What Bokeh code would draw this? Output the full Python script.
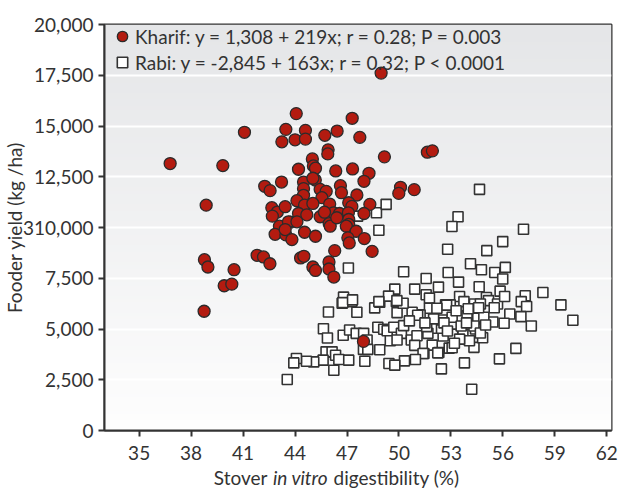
import numpy as np
from bokeh.plotting import figure
from bokeh.layouts import column
from bokeh.models import (ColumnDataSource, Range1d, FixedTicker, Legend, LegendItem, Label)
from bokeh.embed import file_html
from bokeh.resources import INLINE

# ---------------- data ----------------
kharif_x = [41.08, 43.47, 43.24, 36.79, 39.83, 43.22, 42.25, 42.56, 38.87, 42.66,
            42.98, 43.43, 42.69, 38.77, 38.97, 40.48, 39.91, 40.35, 38.75, 41.81,
            42.18, 42.55, 43.10, 42.85, 43.47, 43.72, 48.97, 44.07, 47.30, 44.60,
            44.00, 44.60, 45.72, 46.43, 47.74, 45.91, 45.89, 49.16, 51.64, 51.93,
            45.00, 45.06, 45.18, 44.20, 46.35, 47.32, 48.27, 47.98, 44.49, 45.17,
            45.03, 44.49, 44.49, 50.09, 49.99, 50.88, 46.62, 46.68, 45.45, 45.80,
            47.57, 45.55, 44.11, 44.55, 45.03, 46.00, 47.10, 47.28, 48.32, 44.20,
            44.68, 45.45, 46.22, 46.57, 45.70, 47.08, 47.98, 43.62, 44.11, 47.10,
            47.10, 46.96, 45.97, 46.03, 46.41, 47.53, 43.43, 43.82, 44.55, 45.18,
            47.05, 47.13, 48.00, 48.45, 46.29, 44.32, 44.51, 45.96, 45.96, 46.24,
            45.03, 45.18, 47.95]
kharif_y = [14690, 14835, 14220, 13150, 13050, 12240, 12030, 11815, 11100, 10975,
            10760, 11025, 10560, 8415, 8055, 7920, 7130, 7210, 5875, 8630,
            8550, 8215, 10065, 9665, 9635, 10260, 17605, 15610, 15380, 14785,
            14320, 14355, 14540, 14750, 14440, 13825, 13625, 13480, 13710, 13775,
            13380, 13035, 12920, 12870, 12785, 12885, 12670, 12275, 12240, 12340,
            12425, 11915, 11585, 11980, 11680, 11865, 12060, 11715, 11880, 11780,
            11600, 11470, 11320, 11105, 11185, 11155, 11220, 11040, 11140, 10690,
            10625, 10530, 10725, 10690, 10755, 10725, 10690, 10280, 10280, 10395,
            10150, 10065, 10195, 10065, 10480, 9815, 9900, 9405, 9765, 9570,
            9490, 9240, 9455, 8825, 8860, 8500, 8580, 8300, 7955, 7560,
            8055, 7885, 4390]

rabi_x = [54.65, 53.41, 53.06, 57.19, 55.99, 52.81, 55.07, 54.13, 52.84, 54.76,
          55.53, 56.14, 55.99, 51.57, 52.28, 53.44, 54.63, 55.84, 58.31, 57.29,
          57.06, 59.35, 51.57, 51.76, 53.50, 53.75, 55.05, 55.17, 55.69, 57.37,
          52.69, 52.96, 54.36, 54.70, 60.04, 57.64, 57.04, 56.40, 56.07, 55.42,
          56.75, 55.80, 53.78, 52.45, 54.20, 54.33, 54.83, 54.42, 53.69, 54.07,
          53.10, 52.55, 52.44, 52.90, 53.07, 51.92, 52.30, 51.44, 51.88, 51.67,
          52.50, 53.07, 53.93, 54.55, 54.90, 53.59, 54.33, 52.75, 51.76, 52.19,
          51.22, 45.93, 47.57, 46.72, 47.27, 48.60, 48.89, 49.89, 50.76, 51.08,
          49.85, 50.24, 45.64, 45.87, 46.78, 47.15, 47.53, 47.96, 48.16, 47.95,
          48.20, 48.89, 48.78, 49.12, 49.32, 49.70, 50.14, 50.27, 49.50, 49.89,
          50.71, 51.04, 50.91, 51.39, 50.95, 52.24, 50.32, 49.42, 49.76, 45.79,
          46.14, 46.34, 46.53, 47.10, 48.03, 46.24, 45.62, 45.08, 44.66, 44.08,
          43.93, 43.55, 48.84, 47.08, 50.27, 50.91, 49.76, 49.40, 49.88, 48.84,
          46.80, 46.76, 47.32, 48.70, 49.26, 47.61, 51.60, 52.00, 53.30, 54.00,
          52.60, 53.50, 52.80, 54.70, 55.00, 53.90, 51.50, 53.20, 50.60, 54.60,
          56.10, 55.50]
rabi_y = [11880, 10530, 10050, 9915, 9305, 8925, 8860, 8215, 7785, 7920,
          7785, 8035, 7460, 7490, 7065, 7310, 7080, 6865, 6795, 6635,
          6350, 6190, 6685, 6520, 6600, 6350, 6550, 6400, 6235, 6105,
          6190, 6190, 6235, 6235, 5430, 5150, 5610, 5740, 5280, 5345,
          4045, 3530, 3330, 3035, 2030, 4095, 4570, 5000, 4750, 4420,
          4750, 4655, 5035, 4060, 4075, 4205, 3845, 3795, 5035, 4785,
          5445, 5580, 5645, 5530, 5580, 5150, 5150, 6175, 6025, 6025,
          5695, 5840, 5825, 6270, 6350, 6040, 6320, 5805, 5825, 5680,
          6350, 6270, 5015, 4555, 4690, 4950, 4785, 4785, 4455, 3995,
          3995, 3975, 5085, 4985, 4915, 5085, 4785, 5165, 4420, 4455,
          4455, 4670, 4195, 3795, 3500, 3825, 3430, 3300, 3220, 3875,
          3875, 3710, 3500, 3465, 3415, 2970, 3465, 3380, 3415, 3550,
          3330, 2510, 9865, 8005, 7820, 6965, 6965, 6620, 6400, 6350,
          6570, 6300, 6435, 10725, 11140, 10560, 5115, 5500, 5900, 6000,
          5300, 4500, 4900, 4800, 5200, 5300, 5300, 4300, 5400, 6050,
          6600, 6050]

x_ticks = [35, 38, 41, 44, 47, 50, 53, 56, 59, 62]
y_ticks = [0, 2500, 5000, 7500, 10000, 12500, 15000, 17500, 20000]
y_tick_labels = ["0", "2,500", "5,000", "7,500", "310,000", "12,500", "15,000", "17,500", "20,000"]

legend_kharif = "Kharif: y = 1,308 + 219x; r = 0.28; P = 0.003"
legend_rabi = "Rabi: y = -2,845 + 163x; r = 0.32; P < 0.0001"
x_label_parts = ["Stover", "in vitro", "digestibility (%)"]
y_label = "Fooder yield (kg /ha)"

FONT = "Lato"
DARK = "#333333"

X0, X1 = 33.0, 62.27
Y0, Y1 = 0.0, 20000.0

FL, FT, FW, FH = 104, 24, 507, 406   # frame left/top/width/height in px
W, H = 619, 489
LABEL_H = 24                          # strip for the x-axis title
MAIN_H = H - LABEL_H

p = figure(width=W, height=MAIN_H, output_backend="svg", toolbar_location=None,
           x_range=Range1d(X0, X1), y_range=Range1d(Y0, Y1),
           min_border_left=FL, min_border_right=W - FL - FW,
           min_border_top=FT, min_border_bottom=MAIN_H - FT - FH)
p.background_fill_color = "#f3f4f4"
p.border_fill_color = "white"
p.outline_line_color = DARK
p.outline_line_width = 2

# gradient background (styling)
n = 120
img = np.empty((n, 1), dtype=np.uint32)
view = img.view(dtype=np.uint8).reshape((n, 1, 4))
top = np.array([229, 230, 232])
bot = np.array([254, 254, 254])
for i in range(n):
    t = i / (n - 1)
    c = bot * (1 - t) + top * t
    view[i, 0, 0:3] = c.astype(np.uint8)
    view[i, 0, 3] = 255
bg = p.image_rgba(image=[img], x=X0, y=Y0, dw=X1 - X0, dh=Y1 - Y0)
bg.level = "image"

# grid
p.xgrid.visible = False
p.ygrid.grid_line_color = "white"
p.ygrid.grid_line_width = 2
p.ygrid.ticker = FixedTicker(ticks=y_ticks)

# axes
for ax in (p.xaxis[0], p.yaxis[0]):
    ax.axis_line_color = DARK
    ax.axis_line_width = 2
    ax.major_tick_line_color = DARK
    ax.major_tick_line_width = 2
    ax.major_tick_out = 6
    ax.major_tick_in = 0
    ax.minor_tick_line_color = None
    ax.major_label_text_font = FONT
    ax.major_label_text_font_size = "19px"
    ax.major_label_text_color = DARK
    ax.axis_label_text_font = FONT
    ax.axis_label_text_font_size = "19px"
    ax.axis_label_text_color = DARK
    ax.axis_label_text_font_style = "normal"

p.xaxis.ticker = FixedTicker(ticks=x_ticks)
p.xaxis.major_label_standoff = 9
p.yaxis.ticker = FixedTicker(ticks=y_ticks)
p.yaxis.major_label_overrides = {t: l for t, l in zip(y_ticks, y_tick_labels)}
p.yaxis.major_label_standoff = 5
p.yaxis.axis_label = y_label
p.yaxis.axis_label_standoff = -6

# data
src_k = ColumnDataSource(dict(x=kharif_x, y=kharif_y))
src_r = ColumnDataSource(dict(x=rabi_x, y=rabi_y))
r_rabi = p.scatter("x", "y", source=src_r, marker="square", size=10,
                   fill_color="white", line_color=DARK, line_width=1.6)
r_kh = p.scatter("x", "y", source=src_k, marker="circle", size=12,
                 fill_color="#b31b10", line_color="#2b2b2b", line_width=1.3)

legend = Legend(items=[LegendItem(label=legend_kharif, renderers=[r_kh]),
                       LegendItem(label=legend_rabi, renderers=[r_rabi])],
                location=(5, 355))
legend.background_fill_alpha = 0
legend.border_line_color = None
legend.padding = 0
legend.margin = 0
legend.spacing = -1
legend.glyph_width = 26
legend.glyph_height = 26
legend.label_height = 26
legend.label_standoff = -7
legend.label_text_font = FONT
legend.label_text_font_size = "19px"
legend.label_text_color = DARK
p.add_layout(legend)

# x-axis title strip (mixed roman / italic text); its frame is aligned with
# the main frame by the column layout, so its x range is in page pixels.
lab = figure(width=W, height=LABEL_H, output_backend="svg", toolbar_location=None,
             x_range=Range1d(FL, FL + FW), y_range=Range1d(0, LABEL_H),
             x_axis_type=None, y_axis_type=None,
             min_border_left=FL, min_border_right=W - FL - FW,
             min_border_top=0, min_border_bottom=0)
lab.outline_line_color = None
lab.background_fill_color = "white"
lab.border_fill_color = "white"
lab.grid.visible = False
ymid = LABEL_H - (477 - MAIN_H)
common = dict(y=ymid, text_baseline="middle", text_font=FONT,
              text_font_size="19px", text_color=DARK)
lab.add_layout(Label(x=267, text=x_label_parts[0], text_align="right", **common))
lab.add_layout(Label(x=300, text=x_label_parts[1], text_align="center",
                     text_font_style="italic", **common))
lab.add_layout(Label(x=333, text=x_label_parts[2], text_align="left", **common))

layout = column(p, lab, spacing=0)
open("out.html", "w").write(file_html(layout, INLINE))
